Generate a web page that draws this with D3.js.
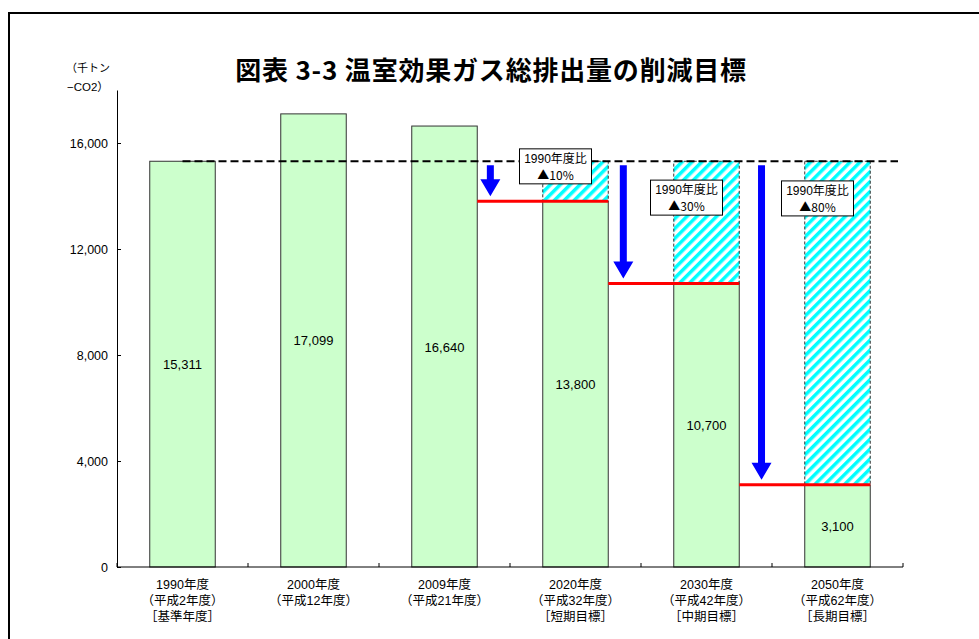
<!DOCTYPE html>
<html>
<head>
<meta charset="utf-8">
<script src="https://cdn.jsdelivr.net/npm/d3@7"></script>
<style>
  body { margin: 0; background: #fff; }
  svg text { font-family: "Liberation Sans", "Noto Sans CJK JP", sans-serif; }
</style>
</head>
<body>
<svg id="chart" width="979" height="639"></svg>
<script>
// data
const categories = ["1990", "2000", "2009", "2020", "2030", "2050"];
const categoryLabels = [
    ["1990年度", "（平成2年度）", "［基準年度］"],
    ["2000年度", "（平成12年度）"],
    ["2009年度", "（平成21年度）"],
    ["2020年度", "（平成32年度）", "［短期目標］"],
    ["2030年度", "（平成42年度）", "［中期目標］"],
    ["2050年度", "（平成62年度）", "［長期目標］"]
];
const emissions = [15311, 17099, 16640, 13800, 10700, 3100];
const baseValue = 15311;
const targetCategories = ["2020", "2030", "2050"];
const reductionLabels = ["▲10%", "▲30%", "▲80%"];
const boxValues = [15100, 13920, 13890];   // vertical centre of each note box
const yTicks = [0, 4000, 8000, 12000, 16000];

const svg = d3.select("#chart");

/* ------------------------------
   FRAME + TITLE
------------------------------ */

svg.append("rect")
    .attr("x", 9).attr("y", 13)
    .attr("width", 1000).attr("height", 700)
    .attr("fill", "none")
    .attr("stroke", "#000")
    .attr("stroke-width", 2);

svg.append("text")
    .attr("x", 491).attr("y", 80)
    .attr("text-anchor", "middle")
    .style("font-family", "'Noto Sans CJK JP', sans-serif")
    .style("font-size", "26px")
    .style("font-weight", "bold")
    .style("letter-spacing", "0.8px")
    .text("図表 3-3  温室効果ガス総排出量の削減目標");

svg.append("text")
    .attr("x", 66).attr("y", 72)
    .style("font-family", "'Noto Sans CJK JP', sans-serif")
    .style("font-size", "11px")
    .text("（千トン");
svg.append("text")
    .attr("x", 67).attr("y", 91)
    .style("font-size", "11.5px")
    .text("−CO2）");

/* ------------------------------
   SCALES
------------------------------ */

const x = d3.scaleBand()
    .domain(categories)
    .range([117, 903])
    .paddingInner(0.5)
    .paddingOuter(0.25);

const y = d3.scaleLinear()
    .domain([0, 18000])
    .range([567, 90]);

const cx = c => x(c) + x.bandwidth() / 2;

/* hatch pattern */
const defs = svg.append("defs");
const pat = defs.append("pattern")
    .attr("id", "hatch")
    .attr("patternUnits", "userSpaceOnUse")
    .attr("width", 7).attr("height", 7)
    .attr("patternTransform", "rotate(45)");
pat.append("rect").attr("width", 7).attr("height", 7).attr("fill", "#fff");
pat.append("rect").attr("width", 3.5).attr("height", 7).attr("fill", "#00ffff");

/* ------------------------------
   BARS
------------------------------ */

const data = categories.map((c, i) => ({ cat: c, value: emissions[i] }));

// hatched reduction part on the target bars
svg.selectAll("rect.cut")
    .data(data.filter(d => targetCategories.includes(d.cat)))
    .enter()
    .append("rect")
    .attr("class", "cut")
    .attr("x", d => x(d.cat))
    .attr("y", y(baseValue))
    .attr("width", x.bandwidth())
    .attr("height", d => y(d.value) - y(baseValue))
    .attr("fill", "url(#hatch)")
    .attr("stroke", "#333")
    .attr("stroke-width", 1)
    .attr("stroke-dasharray", "3,2");

svg.selectAll("rect.bar")
    .data(data)
    .enter()
    .append("rect")
    .attr("class", "bar")
    .attr("x", d => x(d.cat))
    .attr("y", d => y(d.value))
    .attr("width", x.bandwidth())
    .attr("height", d => y(0) - y(d.value))
    .attr("fill", "#ccffcc")
    .attr("stroke", "#333")
    .attr("stroke-width", 1);

svg.selectAll("text.val")
    .data(data)
    .enter()
    .append("text")
    .attr("class", "val")
    .attr("x", d => cx(d.cat))
    .attr("y", d => y(d.value / 2) + 5)
    .attr("text-anchor", "middle")
    .style("font-size", "13px")
    .text(d => d3.format(",")(d.value));

/* ------------------------------
   AXES
------------------------------ */

const yAxis = svg.append("g")
    .attr("transform", "translate(117,0)")
    .call(d3.axisLeft(y)
        .tickValues(yTicks)
        .tickSize(-4)
        .tickSizeOuter(0)
        .tickPadding(9)
        .tickFormat(d3.format(",")));
yAxis.select(".domain").attr("stroke", "#000");
yAxis.selectAll("text")
    .style("font-size", "12.5px")
    .style("font-family", "'Liberation Sans', sans-serif");

const [x0, x1] = x.range();
svg.append("line")
    .attr("x1", x0).attr("x2", x1)
    .attr("y1", y(0)).attr("y2", y(0))
    .attr("stroke", "#000");

svg.selectAll("line.xtick")
    .data(d3.range(categories.length + 1))
    .enter()
    .append("line")
    .attr("class", "xtick")
    .attr("x1", i => x0 + i * x.step())
    .attr("x2", i => x0 + i * x.step())
    .attr("y1", y(0)).attr("y2", y(0) - 4)
    .attr("stroke", "#000");

const xl = svg.selectAll("text.xl")
    .data(categories)
    .enter()
    .append("text")
    .attr("class", "xl")
    .attr("text-anchor", "middle")
    .style("font-size", "12.5px");
xl.selectAll("tspan")
    .data((c, i) => categoryLabels[i].map(t => ({ c: c, t: t })))
    .enter()
    .append("tspan")
    .attr("x", d => cx(d.c))
    .attr("y", (d, j) => 589 + j * 16)
    .text(d => d.t);

/* ------------------------------
   BASE LINE, TARGET LINES, ARROWS
------------------------------ */

svg.append("line")
    .attr("x1", cx(categories[0]))
    .attr("x2", x1 - 5)
    .attr("y1", y(baseValue)).attr("y2", y(baseValue))
    .attr("stroke", "#000")
    .attr("stroke-width", 2)
    .attr("stroke-dasharray", "8,4");

const targets = data.filter(d => targetCategories.includes(d.cat));
const arrowShift = [0.2, 0.23, 0.34];

targets.forEach((d, i) => {
    const idx = categories.indexOf(d.cat);
    const prevRight = x(categories[idx - 1]) + x.bandwidth();
    const right = x(d.cat) + x.bandwidth();
    const ty = y(d.value);

    svg.append("line")
        .attr("x1", prevRight).attr("x2", right)
        .attr("y1", ty).attr("y2", ty)
        .attr("stroke", "#ff0000")
        .attr("stroke-width", 3);

    const gap = x(d.cat) - prevRight;
    const ax = prevRight + gap * arrowShift[i];
    const top = y(baseValue) + 4;
    const tip = ty - 5;
    const head = 17;
    svg.append("path")
        .attr("d", `M${ax - 3.5},${top} L${ax + 3.5},${top} L${ax + 3.5},${tip - head}
                    L${ax + 10},${tip - head} L${ax},${tip} L${ax - 10},${tip - head}
                    L${ax - 3.5},${tip - head} Z`)
        .attr("fill", "#0000ff");

    // note box
    const bx = cx(d.cat) - 20;
    const by = y(boxValues[i]);
    const g = svg.append("g").attr("transform", `translate(${bx},${by})`);
    g.append("rect")
        .attr("x", -36).attr("y", -18)
        .attr("width", 72).attr("height", 35)
        .attr("fill", "#fff")
        .attr("stroke", "#000")
        .attr("stroke-width", 1);
    g.append("text")
        .attr("text-anchor", "middle")
        .attr("y", -4)
        .style("font-size", "12px")
        .text("1990年度比");
    g.append("text")
        .attr("text-anchor", "middle")
        .attr("y", 13)
        .style("font-family", "'Noto Sans CJK JP', sans-serif")
        .style("font-size", "12px")
        .text(reductionLabels[i]);
});
</script>
</body>
</html>
